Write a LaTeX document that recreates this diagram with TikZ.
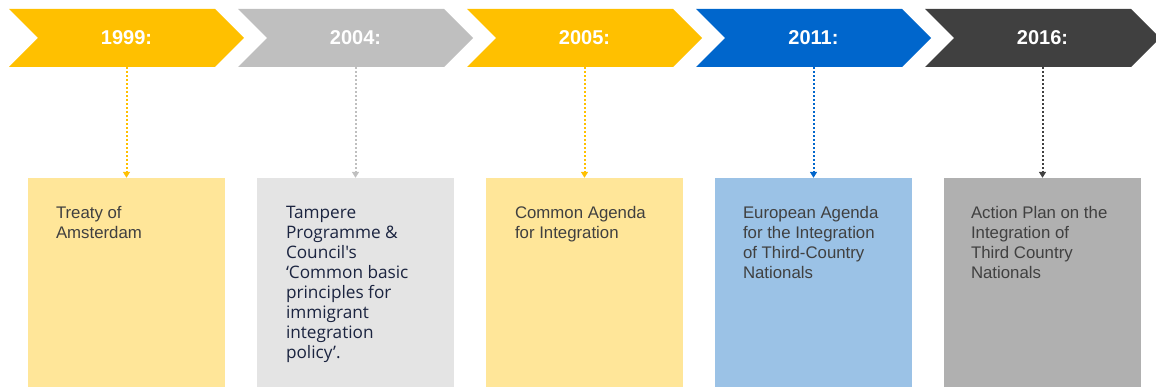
\documentclass[tikz,border=0pt]{standalone}
\usepackage{fontspec}
\setmainfont{Liberation Sans}
\newfontfamily\opensans{Open Sans}
\usetikzlibrary{shapes.symbols,arrows.meta}

\definecolor{amber}{HTML}{FFC000}
\definecolor{amberlight}{HTML}{FFE699}
\definecolor{silver}{HTML}{BFBFBF}
\definecolor{silverlight}{HTML}{E4E4E4}
\definecolor{royal}{HTML}{0066CC}
\definecolor{royallight}{HTML}{9BC2E6}
\definecolor{charcoal}{HTML}{404040}
\definecolor{charcoallight}{HTML}{B0B0B0}
\definecolor{navytext}{HTML}{1B2440}

\begin{document}
\begin{tikzpicture}[
  x=1pt, y=-1pt,
  chevron/.style={signal, signal from=west, signal to=east, signal pointer angle=90,
    minimum width=235pt, minimum height=58pt, inner sep=0pt,
    text=white, font=\fontsize{20}{22}\selectfont\bfseries},
  period/.style={rectangle, minimum width=197pt, minimum height=215pt, inner sep=0pt},
  note/.style={anchor=north west, align=left, inner sep=0pt, text=charcoal,
    font=\fontsize{16.8}{20}\selectfont},
  link/.style={line width=2pt, dash pattern=on 2pt off 2pt, -{Triangle[length=6pt, width=7pt]}},
]
  \useasboundingbox (0,0) rectangle (1156,387);
  \clip (0,0) rectangle (1156,387);

  % year chevrons
  \node[chevron, fill=amber] (c1999) at (126.5, 38) {1999:};
  \node[chevron, fill=silver] (c2004) at (355.5, 38) {2004:};
  \node[chevron, fill=amber] (c2005) at (584.5, 38) {2005:};
  \node[chevron, fill=royal] (c2011) at (813.5, 38) {2011:};
  \node[chevron, fill=charcoal] (c2016) at (1042.5, 38) {2016:};

  % boxes below
  \node[period, fill=amberlight] (b1999) at (126.5, 285.5) {};
  \node[period, fill=silverlight] (b2004) at (355.5, 285.5) {};
  \node[period, fill=amberlight] (b2005) at (584.5, 285.5) {};
  \node[period, fill=royallight] (b2011) at (813.5, 285.5) {};
  \node[period, fill=charcoallight] (b2016) at (1042.5, 285.5) {};

  \node[note] (t1999) at ([xshift=28pt, yshift=-28pt]b1999.north west) {Treaty of\\Amsterdam};
  \node[note, text=navytext, font=\opensans\fontsize{17.2}{20}\selectfont] (t2004)
    at ([xshift=29pt, yshift=-28pt]b2004.north west)
    {Tampere\\Programme \&\\Council's\\‘Common basic\\principles for\\immigrant\\integration\\policy’.};
  \node[note] (t2005) at ([xshift=29pt, yshift=-28pt]b2005.north west) {Common Agenda\\for Integration};
  \node[note] (t2011) at ([xshift=28pt, yshift=-28pt]b2011.north west)
    {European Agenda\\for the Integration\\of Third-Country\\Nationals};
  \node[note] (t2016) at ([xshift=27pt, yshift=-28pt]b2016.north west)
    {Action Plan on the\\Integration of\\Third Country\\Nationals};

  % dotted links
  \draw[link, amber] (c1999.south) -- (b1999.north);
  \draw[link, silver] (c2004.south) -- (b2004.north);
  \draw[link, amber] (c2005.south) -- (b2005.north);
  \draw[link, royal] (c2011.south) -- (b2011.north);
  \draw[link, charcoal] (c2016.south) -- (b2016.north);
\end{tikzpicture}
\end{document}
